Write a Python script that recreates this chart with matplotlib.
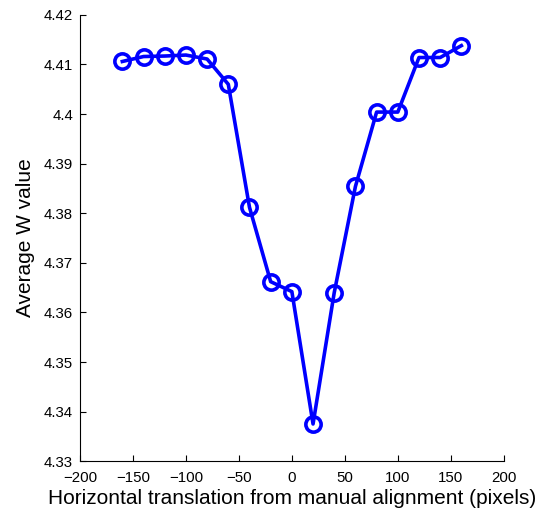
import numpy as np
import matplotlib
matplotlib.use('Agg')
import matplotlib.pyplot as plt

# horizontal offsets (pixels) and mean W value
offsets = [-160, -140, -120, -100, -80, -60, -40, -20, 0, 20, 40, 60, 80, 100, 120, 140, 160]
avg_w = [4.4106, 4.4116, 4.4117, 4.4119, 4.4111, 4.4060, 4.3812, 4.3662, 4.3642,
         4.3375, 4.3640, 4.3854, 4.4004, 4.4004, 4.4114, 4.4114, 4.4138]

xticks = [-200, -150, -100, -50, 0, 50, 100, 150, 200]
yticks = [4.33, 4.34, 4.35, 4.36, 4.37, 4.38, 4.39, 4.4, 4.41, 4.42]
ytick_labels = ['4.33', '4.34', '4.35', '4.36', '4.37', '4.38', '4.39', '4.4', '4.41', '4.42']

plt.rcParams['font.family'] = ['Liberation Sans', 'DejaVu Sans']

fig = plt.figure(figsize=(5.44, 5.13), dpi=100)
ax = fig.add_axes([0.147, 0.101, 0.779, 0.870])

ax.plot(offsets, avg_w, color='#0000ff', linewidth=2.6, marker='o',
        markersize=11, markerfacecolor='none', markeredgewidth=2.6)

ax.set_xlim(-200, 200)
ax.set_ylim(4.33, 4.42)
ax.set_xticks(xticks)
ax.set_xticklabels(['\u2212200', '\u2212150', '\u2212100', '\u221250', '0', '50', '100', '150', '200'])
ax.set_yticks(yticks)
ax.set_yticklabels(ytick_labels)
ax.tick_params(direction='in', length=4, width=0.8, labelsize=10.8)
ax.tick_params(axis='x', pad=7)
ax.tick_params(axis='y', pad=5)
ax.spines['top'].set_visible(False)
ax.spines['right'].set_visible(False)

ax.set_xlabel('Horizontal translation from manual alignment (pixels)', fontsize=15, labelpad=3)
ax.set_ylabel('Average W value', fontsize=15, labelpad=6)

fig.savefig('out.png', dpi=100)
